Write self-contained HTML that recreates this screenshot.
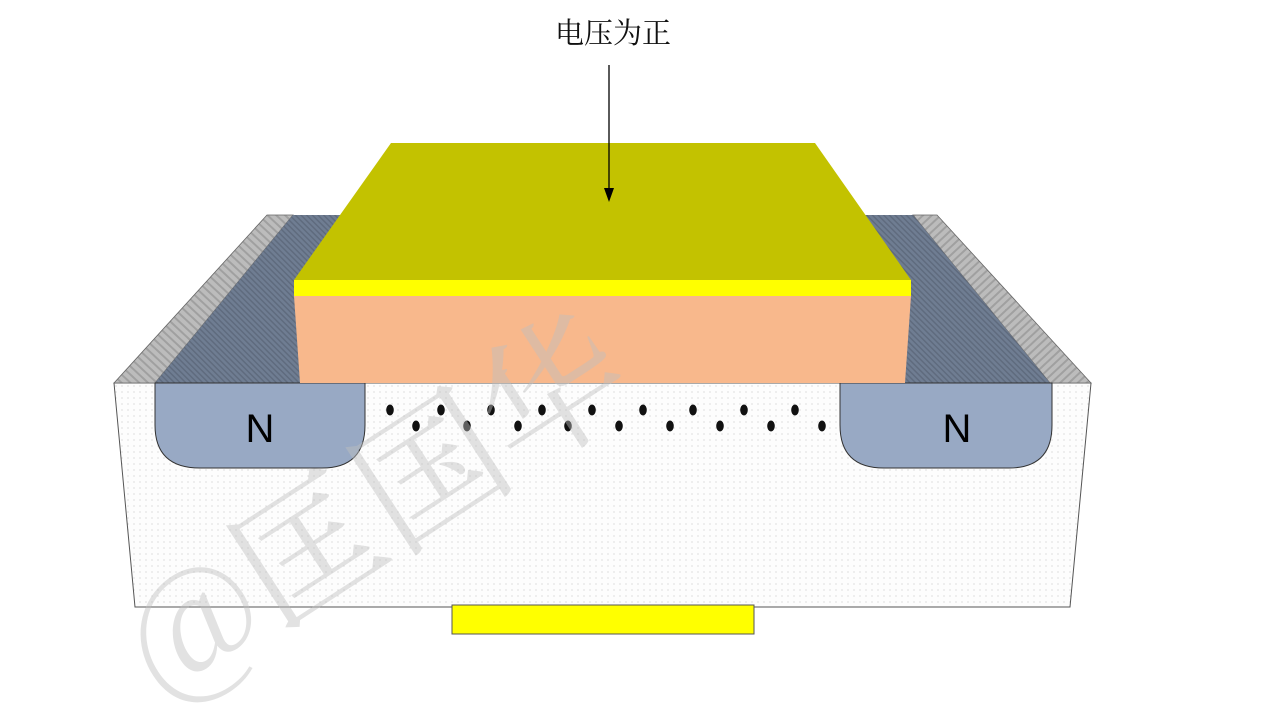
<!DOCTYPE html>
<html><head><meta charset="utf-8"><style>
body{margin:0;background:#fff;width:1268px;height:714px;overflow:hidden;position:relative;font-family:"Liberation Sans","Noto Sans CJK SC",sans-serif}
svg{position:absolute;left:0;top:0}
</style></head><body>
<svg width="1268" height="714" viewBox="0 0 1268 714">
<defs>
<pattern id="dots" width="6" height="6" patternUnits="userSpaceOnUse"><rect width="6" height="6" fill="#fdfdfd"/><circle cx="2" cy="2" r="0.6" fill="#c8c8c8"/></pattern>
<pattern id="stripe" width="4" height="4" patternUnits="userSpaceOnUse" patternTransform="rotate(-45)"><rect width="4" height="4" fill="#6f7d92"/><rect width="1.5" height="4" fill="#5f6b7e"/></pattern>
<pattern id="gstripe" width="6" height="6" patternUnits="userSpaceOnUse" patternTransform="rotate(-47)"><rect width="6" height="6" fill="#bcbcbc"/><rect width="2" height="6" fill="#a0a0a0"/></pattern>
<pattern id="gstripe2" width="6" height="6" patternUnits="userSpaceOnUse" patternTransform="rotate(47)"><rect width="6" height="6" fill="#bcbcbc"/><rect width="2" height="6" fill="#a0a0a0"/></pattern>
</defs>
<polygon points="114,383 1091,383 1070,607 135,607" fill="url(#dots)" stroke="#555" stroke-width="1"/>
<polygon points="114,383 267,215 293,215 155,383" fill="url(#gstripe)" stroke="#666" stroke-width="0.8"/>
<polygon points="155,383 293,215 400,215 300,383" fill="url(#stripe)"/>
<polygon points="1050,383 913,215 937,215 1091,383" fill="url(#gstripe2)" stroke="#666" stroke-width="0.8"/>
<polygon points="905,383 800,215 913,215 1050,383" fill="url(#stripe)"/>
<path d="M155,383 H365 V425 Q365,468 322,468 H200 Q155,468 155,425 Z" fill="#98a9c4" stroke="#333" stroke-width="1"/>
<path d="M840,383 H1052 V425 Q1052,468 1009,468 H884 Q840,468 840,425 Z" fill="#98a9c4" stroke="#333" stroke-width="1"/>
<text x="260" y="442" font-size="40" text-anchor="middle" fill="#000" font-family="Liberation Sans,sans-serif">N</text>
<text x="957" y="442" font-size="40" text-anchor="middle" fill="#000" font-family="Liberation Sans,sans-serif">N</text>
<polygon points="391,143 815,143 911,280 294,280" fill="#c3c200"/>
<rect x="294" y="280" width="617" height="16" fill="#ffff00"/>
<polygon points="294,296 911,296 905,383 300,383" fill="#f8b88c"/>
<g fill="#111">
<ellipse cx="390" cy="410" rx="3.8" ry="5.5"/><ellipse cx="441" cy="410" rx="3.8" ry="5.5"/><ellipse cx="491" cy="410" rx="3.8" ry="5.5"/><ellipse cx="542" cy="410" rx="3.8" ry="5.5"/><ellipse cx="592" cy="410" rx="3.8" ry="5.5"/><ellipse cx="643" cy="410" rx="3.8" ry="5.5"/><ellipse cx="693" cy="410" rx="3.8" ry="5.5"/><ellipse cx="744" cy="410" rx="3.8" ry="5.5"/><ellipse cx="795" cy="410" rx="3.8" ry="5.5"/>
<ellipse cx="416" cy="426" rx="3.8" ry="5.5"/><ellipse cx="467" cy="426" rx="3.8" ry="5.5"/><ellipse cx="518" cy="426" rx="3.8" ry="5.5"/><ellipse cx="568" cy="426" rx="3.8" ry="5.5"/><ellipse cx="619" cy="426" rx="3.8" ry="5.5"/><ellipse cx="670" cy="426" rx="3.8" ry="5.5"/><ellipse cx="720" cy="426" rx="3.8" ry="5.5"/><ellipse cx="771" cy="426" rx="3.8" ry="5.5"/><ellipse cx="822" cy="426" rx="3.8" ry="5.5"/>
</g>
<rect x="452" y="605" width="302" height="29" fill="#ffff00" stroke="#555" stroke-width="1"/>
<line x1="609" y1="65" x2="609" y2="190" stroke="#000" stroke-width="1.3"/>
<polygon points="604,188 614,188 609,202" fill="#000"/>
<text x="613" y="43" font-size="29" text-anchor="middle" font-family="Noto Serif CJK SC,Noto Sans CJK SC,serif" fill="#111">电压为正</text>
<text x="0" y="0" font-size="145" fill="rgba(190,190,190,0.45)" font-family="Noto Serif CJK SC,Noto Sans CJK SC,serif" transform="translate(165,705) rotate(-33)">@匡国华</text>
</svg>
</body></html>
